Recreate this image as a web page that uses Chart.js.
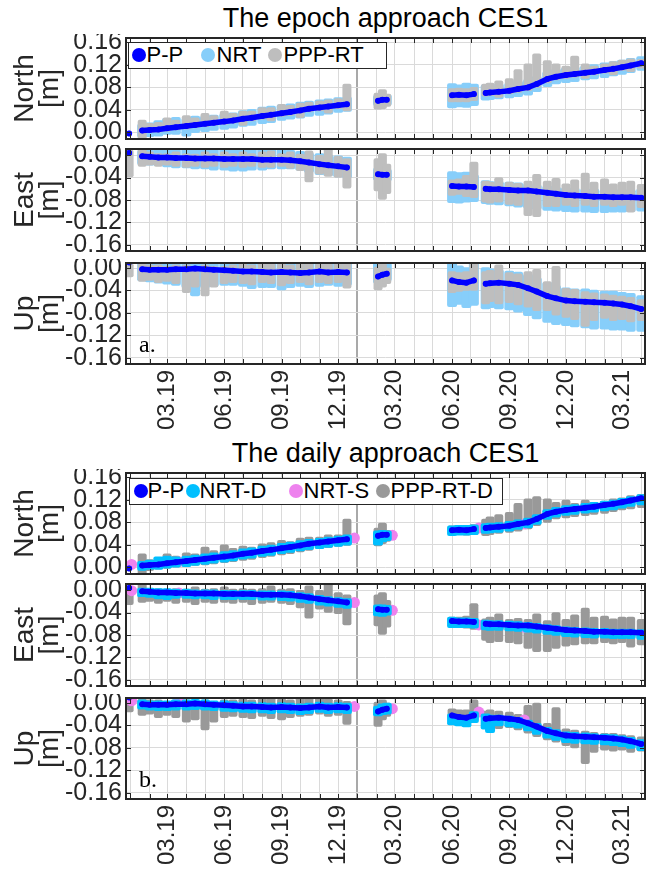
<!DOCTYPE html>
<html><head><meta charset="utf-8">
<script src="https://cdn.jsdelivr.net/npm/chart.js@4.4.0/dist/chart.umd.min.js"></script>
<style>
html,body{margin:0;padding:0;background:#fff;}
#wrap{position:relative;width:658px;height:869px;overflow:hidden;font-family:"Liberation Sans",Arial,sans-serif;}
.title{position:absolute;left:126px;width:519px;text-align:center;font-size:27px;line-height:27px;color:#000;z-index:3;white-space:nowrap;}
.legend{position:absolute;box-sizing:border-box;border:1.5px solid #262626;background:#fff;z-index:4;}
.legend .dot{position:absolute;width:14px;height:14px;border-radius:50%;}
.legend .txt{position:absolute;font-size:22px;line-height:22px;color:#000;white-space:nowrap;}
.tag{position:absolute;font-family:"Liberation Serif","Times New Roman",serif;font-size:24px;line-height:24px;color:#000;z-index:3;}
</style></head><body>
<div id="wrap"></div>
<script>
// ---------------- DATA ----------------
const dates = ['2018-12-30','2019-01-20','2019-02-01','2019-02-15','2019-03-01','2019-03-15','2019-04-01','2019-04-15','2019-05-01','2019-05-15','2019-06-01','2019-06-15','2019-07-01','2019-07-15','2019-08-01','2019-08-15','2019-09-01','2019-09-15','2019-10-01','2019-10-15','2019-11-01','2019-11-15','2019-12-01','2019-12-15','2020-02-03','2020-02-10','2020-02-17','2020-06-01','2020-06-12','2020-06-24','2020-07-06','2020-07-25','2020-08-01','2020-08-15','2020-09-01','2020-09-15','2020-10-01','2020-10-15','2020-11-01','2020-11-15','2020-12-01','2020-12-15','2021-01-01','2021-01-15','2021-02-01','2021-02-15','2021-03-01','2021-03-15','2021-04-01'];
const segment = [0,1,1,1,1,1,1,1,1,1,1,1,1,1,1,1,1,1,1,1,1,1,1,1,2,2,2,3,3,3,3,4,4,4,4,4,4,4,4,4,4,4,4,4,4,4,4,4,4];

// P-P (same reference solution in both approaches)
const ppNorth = [-0.002, 0.003,0.004,0.005,0.007,0.009,0.011,0.013,0.015,0.017,0.019,0.021,0.024,0.026,0.029,0.031,0.034,0.036,0.039,0.042,0.044,0.046,0.048,0.050, 0.056,0.058,0.058, 0.066,0.067,0.066,0.068, 0.070,0.071,0.072,0.074,0.077,0.080,0.086,0.095,0.099,0.102,0.104,0.106,0.108,0.111,0.113,0.116,0.119,0.123];
const ppEast = [0.004, -0.002,-0.003,-0.004,-0.004,-0.005,-0.005,-0.006,-0.006,-0.006,-0.007,-0.007,-0.007,-0.007,-0.008,-0.008,-0.008,-0.009,-0.011,-0.013,-0.016,-0.018,-0.020,-0.022, -0.034,-0.035,-0.035, -0.055,-0.056,-0.056,-0.057, -0.060,-0.061,-0.061,-0.062,-0.063,-0.063,-0.065,-0.067,-0.069,-0.071,-0.072,-0.073,-0.074,-0.074,-0.075,-0.075,-0.075,-0.076];
const ppUp = [0.010, -0.002,-0.003,-0.003,-0.003,-0.002,-0.002,-0.001,-0.002,-0.003,-0.004,-0.005,-0.006,-0.006,-0.007,-0.008,-0.007,-0.008,-0.009,-0.008,-0.006,-0.008,-0.007,-0.008, -0.015,-0.012,-0.010, -0.022,-0.025,-0.026,-0.022, -0.028,-0.027,-0.026,-0.028,-0.030,-0.036,-0.042,-0.050,-0.054,-0.058,-0.059,-0.060,-0.061,-0.062,-0.063,-0.065,-0.068,-0.073];

// epoch approach: [low, high] spread of the NRT and PPP-RT clouds
const nrtNorth = [null,
[-0.004,0.010],[-0.003,0.012],[-0.002,0.016],[0.000,0.020],[0.001,0.022],[-0.002,0.020],[0.004,0.024],[0.006,0.024],[0.008,0.026],[0.010,0.028],[0.012,0.030],[0.015,0.034],[0.017,0.036],[0.020,0.040],[0.022,0.042],[0.026,0.044],[0.028,0.046],[0.030,0.049],[0.033,0.051],[0.035,0.053],[0.037,0.055],[0.040,0.057],[0.042,0.058],
[0.052,0.061],[0.053,0.063],[0.053,0.062],
[0.048,0.082],[0.050,0.080],[0.049,0.083],[0.052,0.081],
[0.062,0.080],[0.063,0.080],[0.064,0.081],[0.066,0.083],[0.068,0.086],[0.071,0.089],[0.077,0.095],[0.086,0.103],[0.091,0.108],[0.093,0.110],[0.095,0.112],[0.098,0.114],[0.100,0.116],[0.102,0.119],[0.105,0.121],[0.108,0.124],[0.111,0.127],[0.115,0.130]];
const pppNorth = [null,
[-0.010,0.018],[0.003,0.012],[0.004,0.014],[0.006,0.022],[0.008,0.018],[0.010,0.026],[0.012,0.022],[0.014,0.030],[0.016,0.026],[0.018,0.034],[0.020,0.030],[0.016,0.034],[0.024,0.034],[0.027,0.040],[0.024,0.040],[0.032,0.046],[0.034,0.044],[0.030,0.048],[0.040,0.050],[0.042,0.052],[0.038,0.054],[0.046,0.056],[0.042,0.082],
[0.045,0.066],[0.046,0.072],[0.050,0.064],
[0.058,0.074],[0.058,0.075],[0.058,0.074],[0.060,0.076],
[0.068,0.082],[0.069,0.084],[0.066,0.088],[0.072,0.092],[0.075,0.108],[0.078,0.118],[0.084,0.136],[0.092,0.124],[0.097,0.118],[0.100,0.114],[0.102,0.132],[0.100,0.118],[0.106,0.114],[0.109,0.118],[0.106,0.122],[0.114,0.125],[0.112,0.127],[0.118,0.126]];
const nrtEast = [null,
[-0.012,0.004],[-0.013,0.004],[-0.014,0.005],[-0.016,0.006],[-0.018,0.006],[-0.018,0.008],[-0.020,0.008],[-0.020,0.008],[-0.022,0.009],[-0.022,0.009],[-0.024,0.010],[-0.024,0.010],[-0.022,0.010],[-0.022,0.008],[-0.020,0.008],[-0.020,0.006],[-0.020,0.004],[-0.022,0.002],[-0.026,0.000],[-0.030,-0.002],[-0.032,-0.004],[-0.034,-0.006],[-0.036,-0.008],
[-0.040,-0.028],[-0.040,-0.029],[-0.041,-0.030],
[-0.080,-0.034],[-0.081,-0.036],[-0.079,-0.035],[-0.078,-0.040],
[-0.082,-0.050],[-0.083,-0.052],[-0.084,-0.052],[-0.086,-0.053],[-0.088,-0.054],[-0.090,-0.056],[-0.092,-0.058],[-0.094,-0.060],[-0.095,-0.062],[-0.096,-0.063],[-0.097,-0.064],[-0.097,-0.065],[-0.098,-0.065],[-0.098,-0.066],[-0.097,-0.066],[-0.097,-0.066],[-0.096,-0.066],[-0.095,-0.065]];
const pppEast = [[-0.035,0.005],
[-0.016,0.010],[-0.014,0.002],[-0.016,0.000],[-0.014,0.000],[-0.016,0.002],[-0.018,0.000],[-0.016,-0.002],[-0.018,0.002],[-0.016,0.000],[-0.018,0.002],[-0.016,0.000],[-0.018,0.002],[-0.016,0.000],[-0.018,0.002],[-0.018,0.004],[-0.016,0.000],[-0.020,0.002],[-0.024,-0.002],[-0.044,0.004],[-0.030,-0.004],[-0.034,0.008],[-0.036,-0.006],[-0.055,-0.010],
[-0.060,-0.010],[-0.075,0.000],[-0.065,-0.020],
[-0.068,-0.048],[-0.066,-0.046],[-0.070,-0.040],[-0.072,-0.016],
[-0.080,-0.050],[-0.082,-0.052],[-0.080,-0.044],[-0.084,-0.052],[-0.086,-0.054],[-0.104,-0.050],[-0.106,-0.038],[-0.088,-0.050],[-0.088,-0.045],[-0.086,-0.055],[-0.088,-0.048],[-0.086,-0.036],[-0.088,-0.052],[-0.086,-0.046],[-0.088,-0.055],[-0.086,-0.052],[-0.098,-0.050],[-0.090,-0.056]];
const nrtUp = [null,
[-0.018,0.006],[-0.020,0.008],[-0.022,0.008],[-0.024,0.009],[-0.026,0.008],[-0.030,0.009],[-0.045,0.009],[-0.030,0.008],[-0.028,0.008],[-0.026,0.007],[-0.026,0.006],[-0.028,0.006],[-0.032,0.005],[-0.030,0.005],[-0.030,0.005],[-0.034,0.004],[-0.030,0.005],[-0.028,0.006],[-0.030,0.007],[-0.028,0.006],[-0.026,0.007],[-0.028,0.008],[-0.026,0.008],
[-0.022,0.005],[-0.020,0.008],[-0.018,0.004],
[-0.064,0.008],[-0.060,0.000],[-0.066,-0.004],[-0.062,0.008],
[-0.068,-0.004],[-0.066,-0.006],[-0.068,-0.008],[-0.070,-0.010],[-0.074,-0.012],[-0.080,-0.016],[-0.086,-0.022],[-0.092,-0.030],[-0.096,-0.036],[-0.098,-0.040],[-0.100,-0.042],[-0.102,-0.042],[-0.104,-0.044],[-0.104,-0.046],[-0.106,-0.046],[-0.106,-0.048],[-0.108,-0.050],[-0.108,-0.054]];
const pppUp = [[-0.012,0.004],
[-0.020,0.004],[-0.018,0.002],[-0.022,0.002],[-0.020,0.000],[-0.024,0.002],[-0.040,0.002],[-0.030,0.000],[-0.046,0.002],[-0.030,0.000],[-0.024,0.000],[-0.022,0.002],[-0.024,0.004],[-0.026,0.002],[-0.022,0.006],[-0.024,0.004],[-0.028,0.004],[-0.024,0.002],[-0.022,0.004],[-0.026,0.006],[-0.022,0.004],[-0.024,0.004],[-0.022,0.006],[-0.032,0.006],
[-0.035,-0.002],[-0.030,0.004],[-0.024,-0.004],
[-0.040,-0.010],[-0.038,-0.012],[-0.036,-0.010],[-0.036,0.008],
[-0.060,-0.010],[-0.056,-0.008],[-0.060,0.002],[-0.058,-0.012],[-0.062,-0.014],[-0.066,-0.010],[-0.072,-0.006],[-0.072,-0.028],[-0.080,0.000],[-0.084,-0.040],[-0.088,-0.042],[-0.100,-0.046],[-0.090,-0.048],[-0.086,-0.050],[-0.090,-0.052],[-0.088,-0.054],[-0.092,-0.056],[-0.090,-0.060]];

// daily approach: [low, high] spread of NRT-D and PPP-RT-D
const nrtdNorth = [null,
[-0.001,0.006],[0.000,0.008],[0.001,0.014],[0.003,0.015],[0.005,0.014],[0.006,0.015],[0.008,0.017],[0.010,0.019],[0.012,0.021],[0.014,0.023],[0.016,0.025],[0.019,0.028],[0.021,0.030],[0.024,0.033],[0.026,0.035],[0.029,0.038],[0.031,0.040],[0.034,0.043],[0.036,0.045],[0.038,0.047],[0.040,0.049],[0.042,0.051],[0.044,0.053],
[0.044,0.060],[0.050,0.061],[0.052,0.060],
[0.061,0.069],[0.062,0.070],[0.062,0.070],[0.063,0.071],
[0.065,0.073],[0.066,0.074],[0.067,0.075],[0.069,0.077],[0.072,0.080],[0.075,0.083],[0.081,0.089],[0.090,0.098],[0.094,0.102],[0.097,0.105],[0.099,0.107],[0.101,0.109],[0.103,0.111],[0.105,0.113],[0.107,0.115],[0.110,0.118],[0.113,0.121],[0.116,0.125]];
const ppdNorth = [null,
[-0.008,0.020],[-0.002,0.010],[0.000,0.012],[0.002,0.020],[0.004,0.016],[0.005,0.022],[0.007,0.020],[0.008,0.032],[0.010,0.026],[0.012,0.036],[0.014,0.030],[0.016,0.034],[0.018,0.032],[0.021,0.038],[0.023,0.040],[0.026,0.044],[0.028,0.042],[0.031,0.048],[0.034,0.050],[0.037,0.050],[0.039,0.054],[0.041,0.054],[0.043,0.082],
[0.042,0.066],[0.046,0.075],[0.050,0.062],
[0.062,0.070],[0.062,0.071],[0.061,0.071],[0.062,0.072],
[0.060,0.082],[0.062,0.086],[0.064,0.090],[0.066,0.094],[0.068,0.110],[0.072,0.118],[0.078,0.122],[0.084,0.118],[0.090,0.112],[0.092,0.116],[0.094,0.110],[0.096,0.116],[0.098,0.112],[0.100,0.114],[0.103,0.118],[0.106,0.120],[0.108,0.124],[0.110,0.126]];
const nrtdEast = [null,
[-0.007,0.000],[-0.008,-0.001],[-0.011,-0.002],[-0.012,-0.002],[-0.010,-0.003],[-0.010,-0.003],[-0.011,-0.004],[-0.011,-0.004],[-0.012,-0.004],[-0.012,-0.005],[-0.012,-0.005],[-0.012,-0.005],[-0.012,-0.005],[-0.013,-0.006],[-0.013,-0.006],[-0.014,-0.006],[-0.015,-0.007],[-0.017,-0.009],[-0.019,-0.011],[-0.022,-0.014],[-0.024,-0.016],[-0.026,-0.018],[-0.028,-0.020],
[-0.041,-0.031],[-0.042,-0.031],[-0.040,-0.032],
[-0.062,-0.053],[-0.062,-0.054],[-0.062,-0.054],[-0.063,-0.055],
[-0.066,-0.058],[-0.067,-0.059],[-0.067,-0.059],[-0.068,-0.060],[-0.069,-0.061],[-0.070,-0.062],[-0.072,-0.064],[-0.074,-0.066],[-0.076,-0.068],[-0.078,-0.070],[-0.079,-0.071],[-0.080,-0.072],[-0.081,-0.073],[-0.081,-0.073],[-0.082,-0.074],[-0.082,-0.074],[-0.082,-0.074],[-0.083,-0.075]];
const ppdEast = [[-0.022,0.002],
[-0.018,0.010],[-0.016,0.000],[-0.020,0.000],[-0.016,-0.002],[-0.020,0.000],[-0.018,-0.002],[-0.022,0.002],[-0.018,-0.002],[-0.020,0.000],[-0.018,0.002],[-0.020,-0.002],[-0.018,0.000],[-0.022,-0.002],[-0.020,0.000],[-0.018,0.004],[-0.020,-0.002],[-0.022,0.000],[-0.028,-0.004],[-0.046,0.004],[-0.030,-0.004],[-0.036,0.008],[-0.038,-0.008],[-0.058,-0.012],
[-0.060,-0.012],[-0.075,-0.008],[-0.062,-0.022],
[-0.062,-0.052],[-0.062,-0.052],[-0.064,-0.050],[-0.066,-0.028],
[-0.086,-0.055],[-0.090,-0.052],[-0.088,-0.046],[-0.090,-0.056],[-0.092,-0.054],[-0.100,-0.056],[-0.106,-0.046],[-0.106,-0.058],[-0.100,-0.044],[-0.096,-0.056],[-0.094,-0.048],[-0.092,-0.036],[-0.092,-0.052],[-0.090,-0.050],[-0.092,-0.055],[-0.090,-0.052],[-0.098,-0.052],[-0.094,-0.056]];
const nrtdUp = [null,
[-0.006,0.001],[-0.008,0.000],[-0.009,0.000],[-0.009,0.000],[-0.008,0.001],[-0.008,0.001],[-0.007,0.002],[-0.008,0.001],[-0.009,0.000],[-0.010,-0.001],[-0.011,-0.002],[-0.012,-0.003],[-0.013,-0.003],[-0.013,-0.004],[-0.014,-0.005],[-0.013,-0.004],[-0.014,-0.005],[-0.016,-0.006],[-0.014,-0.005],[-0.012,-0.003],[-0.014,-0.005],[-0.013,-0.004],[-0.014,-0.005],
[-0.018,-0.010],[-0.016,-0.006],[-0.015,-0.005],
[-0.034,-0.024],[-0.036,-0.026],[-0.038,-0.028],[-0.030,-0.020],
[-0.042,-0.024],[-0.048,-0.026],[-0.036,-0.026],[-0.038,-0.028],[-0.040,-0.030],[-0.045,-0.035],[-0.051,-0.041],[-0.058,-0.048],[-0.062,-0.052],[-0.066,-0.056],[-0.067,-0.057],[-0.068,-0.058],[-0.069,-0.059],[-0.070,-0.060],[-0.071,-0.061],[-0.073,-0.063],[-0.076,-0.066],[-0.080,-0.070]];
const ppdUp = [[-0.012,0.004],
[-0.018,0.004],[-0.016,0.002],[-0.022,0.002],[-0.018,0.000],[-0.022,0.002],[-0.030,0.002],[-0.026,0.000],[-0.044,0.002],[-0.030,0.000],[-0.022,0.002],[-0.020,0.002],[-0.022,0.004],[-0.024,0.002],[-0.020,0.004],[-0.024,0.006],[-0.026,0.004],[-0.022,0.002],[-0.020,0.006],[-0.018,0.016],[-0.016,0.014],[-0.020,0.004],[-0.018,0.002],[-0.034,0.000],
[-0.038,-0.002],[-0.026,0.002],[-0.020,-0.004],
[-0.026,-0.014],[-0.028,-0.016],[-0.030,-0.016],[-0.028,0.002],
[-0.040,-0.018],[-0.044,-0.016],[-0.042,-0.018],[-0.040,-0.020],[-0.044,-0.024],[-0.050,-0.008],[-0.056,-0.004],[-0.062,-0.040],[-0.066,-0.012],[-0.072,-0.050],[-0.076,-0.052],[-0.104,-0.054],[-0.084,-0.056],[-0.080,-0.058],[-0.082,-0.058],[-0.080,-0.060],[-0.084,-0.062],[-0.082,-0.064]];

// NRT-S (daily, visible where the other solutions are missing)
const nrtsDates = ['2019-01-03','2019-03-20','2019-12-27','2020-02-26','2020-07-14','2020-09-25'];
const nrtsNorth = [0.005, 0.010, 0.052, 0.057, 0.070, 0.077];
const nrtsEast = [-0.001, -0.005, -0.022, -0.036, -0.062, -0.066];
const nrtsUp = [0.004, 0.008, -0.006, -0.010, -0.016, -0.030];

// axes
const xTickDates = ['2019-03-01','2019-06-01','2019-09-01','2019-12-01','2020-03-01','2020-06-01','2020-09-01','2020-12-01','2021-03-01'];
const xTickLabels = ['03.19','06.19','09.19','12.19','03.20','06.20','09.20','12.20','03.21'];
const xRange = ['2018-12-25','2021-04-07'];
const darkGridDates = ['2020-01-01'];
const yTicksNorth = [0, 0.04, 0.08, 0.12, 0.16];
const yTicksNeg = [-0.16, -0.12, -0.08, -0.04, 0];
const components = ['North','East','Up'];
const seriesEpoch = ['P-P','NRT','PPP-RT'];
const seriesDaily = ['P-P','NRT-D','NRT-S','PPP-RT-D'];
const titles = ['The epoch approach CES1','The daily approach CES1'];

// ---------------- rendering ----------------
const FONT = '"Liberation Sans", Arial, sans-serif';
const COL = {pp:'#0000ff', nrt:'#87cefa', ppp:'#bebebe', nrtd:'#00bfff', nrts:'#ee82ee', ppd:'#999999'};
const dayOf = s => Date.UTC(+s.slice(0,4), +s.slice(5,7)-1, +s.slice(8,10)) / 864e5;
const xs = dates.map(dayOf);
const xMin = dayOf(xRange[0]), xMax = dayOf(xRange[1]);
const monthVals = [];
for (let y = 2019; y <= 2021; y++) for (let m = 1; m <= 12; m++) {
  const v = Date.UTC(y, m-1, 1)/864e5; if (v > xMin && v < xMax) monthVals.push(v);
}
const labelMap = {}; xTickDates.forEach((d,i) => labelMap[dayOf(d)] = xTickLabels[i]);
const darkVals = new Set(darkGridDates.map(dayOf));

function lineSeries(vals){
  const out = [];
  vals.forEach((v,i) => {
    if (i > 0 && segment[i] !== segment[i-1]) out.push({x:(xs[i]+xs[i-1])/2, y:null});
    out.push({x:xs[i], y:v});
  });
  return out;
}
function barSeries(pairs){ return pairs.map((p,i) => p ? {x:xs[i], y:p} : null).filter(Boolean); }
function pointSeries(ds, vals){ return ds.map((d,i) => ({x:dayOf(d), y:vals[i]})); }

const framePlugin = {
  id:'frame',
  afterDatasetsDraw(chart){
    const {ctx, chartArea:a, scales:{x, y}} = chart;
    ctx.save();
    ctx.strokeStyle = '#262626'; ctx.lineWidth = 1;
    ctx.beginPath();
    x.ticks.forEach(t => { const p = Math.round(x.getPixelForValue(t.value))+0.5;
      ctx.moveTo(p, a.top); ctx.lineTo(p, a.top+5); ctx.moveTo(p, a.bottom); ctx.lineTo(p, a.bottom-5); });
    y.ticks.forEach(t => { const p = Math.round(y.getPixelForValue(t.value))+0.5;
      ctx.moveTo(a.left, p); ctx.lineTo(a.left+5, p); ctx.moveTo(a.right, p); ctx.lineTo(a.right-5, p); });
    ctx.stroke();
    ctx.lineWidth = 2;
    ctx.strokeRect(a.left, a.top, a.right-a.left, a.bottom-a.top);
    ctx.restore();
  }
};

const wrap = document.getElementById('wrap');
function bar(data, color, order, inflate){
  return {type:'bar', data, backgroundColor:color, grouped:false, barThickness:4, borderRadius:5,
          borderSkipped:false, borderWidth:0, inflateAmount:inflate, order};
}
function line(data, order){
  return {type:'line', data, borderColor:COL.pp, backgroundColor:COL.pp, borderWidth:5.5, pointRadius:3, pointBorderWidth:0,
          spanGaps:false, borderCapStyle:'round', borderJoinStyle:'round', order};
}
const noPad = s => { s.paddingTop = 0; s.paddingBottom = 0; s.paddingLeft = 0; s.paddingRight = 0; };

function makeSubplot(o){
  const padT = 4, padB = o.bottom ? 0 : 4, xH = o.bottom ? 74 : 0;
  const H = o.h + padT + padB + xH;
  const c = document.createElement('canvas');
  c.width = 658; c.height = H;
  c.style.cssText = `position:absolute;left:0;top:${o.top-padT}px;width:658px;height:${H}px;z-index:1;`;
  wrap.appendChild(c);
  return new Chart(c, {
    type:'bar',
    data:{datasets:o.datasets},
    options:{
      responsive:false, animation:false, events:[],
      layout:{autoPadding:false, padding:{top:padT, bottom:padB, left:0, right:13}},
      plugins:{legend:{display:false}, tooltip:{enabled:false}, title:{display:false}},
      scales:{
        x:{type:'linear', min:xMin, max:xMax, offset:false,
          afterBuildTicks:s => { s.ticks = monthVals.map(v => ({value:v})); },
          afterFit:s => { s.height = xH; noPad(s); },
          ticks:{display:o.bottom, autoSkip:false, maxRotation:90, minRotation:90, padding:6, color:'#262626',
                 font:{family:FONT, size:24}, callback:v => labelMap[v] || ''},
          grid:{offset:false, drawTicks:false,
                color:c => darkVals.has(c.tick && c.tick.value) ? '#a9a9a9' : '#dadada',
                lineWidth:c => darkVals.has(c.tick && c.tick.value) ? 2 : 1},
          border:{display:false}},
        y:{type:'linear', min:o.ymin, max:o.ymax,
          afterBuildTicks:s => { s.ticks = o.yticks.map(v => ({value:v})); },
          afterFit:s => { s.width = 126; noPad(s); },
          ticks:{autoSkip:false, padding:4, color:'#262626', font:{family:FONT, size:25, lineHeight:1}, callback:v => v.toFixed(2)},
          grid:{drawTicks:false, color:'#dadada'},
          border:{display:false},
          title:{display:true, text:[o.comp, '[m]'], color:'#262626',
                 font:{family:FONT, size:28, lineHeight:0.88}, padding:{top:13, bottom:0}}}
      }
    },
    plugins:[framePlugin]
  });
}

const geom = [
  {comp:'North', h:101, ymin:-0.012, ymax:0.168, yticks:yTicksNorth, top:38},
  {comp:'East',  h:102, ymin:-0.171, ymax:0.011, yticks:yTicksNeg, top:149},
  {comp:'Up',    h:101, ymin:-0.171, ymax:0.009, yticks:yTicksNeg, top:263}
];
const PANEL_SHIFT = 435;
const pp = {North:ppNorth, East:ppEast, Up:ppUp};
const nrt = {North:nrtNorth, East:nrtEast, Up:nrtUp};
const ppp = {North:pppNorth, East:pppEast, Up:pppUp};
const nrtd = {North:nrtdNorth, East:nrtdEast, Up:nrtdUp};
const ppd = {North:ppdNorth, East:ppdEast, Up:ppdUp};
const nrts = {North:nrtsNorth, East:nrtsEast, Up:nrtsUp};

geom.forEach((g, k) => {
  makeSubplot(Object.assign({}, g, {bottom:k===2, datasets:[
    line(lineSeries(pp[g.comp]), 0),
    bar(barSeries(ppp[g.comp]), COL.ppp, 1, 2.5),
    bar(barSeries(nrt[g.comp]), COL.nrt, 2, 3)
  ]}));
  makeSubplot(Object.assign({}, g, {top:g.top+PANEL_SHIFT, bottom:k===2, datasets:[
    line(lineSeries(pp[g.comp]), 0),
    bar(barSeries(nrtd[g.comp]), COL.nrtd, 1, 3),
    {type:'scatter', data:pointSeries(nrtsDates, nrts[g.comp]), backgroundColor:COL.nrts, pointRadius:5.5, pointBorderWidth:0, showLine:false, order:2},
    bar(barSeries(ppd[g.comp]), COL.ppd, 3, 2.5)
  ]}));
});

// titles, legends, panel tags
function addDiv(cls, css, text){ const d = document.createElement('div'); d.className = cls; d.style.cssText = css; if (text) d.textContent = text; wrap.appendChild(d); return d; }
addDiv('title', 'top:5px;', titles[0]);
addDiv('title', `top:${5+PANEL_SHIFT}px;`, titles[1]);
function legend(box, names, colors, dotX, txtX){
  const L = addDiv('legend', `left:${box[0]}px;top:${box[1]}px;width:${box[2]}px;height:${box[3]}px;`);
  names.forEach((n,i) => {
    const d = document.createElement('div'); d.className = 'dot';
    d.style.cssText = `left:${dotX[i]-box[0]-7-1.5}px;top:${box[3]/2-7-1.5}px;background:${colors[i]};`;
    L.appendChild(d);
    const t = document.createElement('div'); t.className = 'txt'; t.textContent = n;
    t.style.cssText = `left:${txtX[i]-box[0]-1.5}px;top:${box[3]/2-11-1.5}px;`;
    L.appendChild(t);
  });
}
legend([128,42,259,27], seriesEpoch, [COL.pp, COL.nrt, COL.ppp], [139,208,275], [147,217,284]);
legend([129,478,374,27], seriesDaily, [COL.pp, COL.nrtd, COL.nrts, COL.ppd], [141,193,296,383], [148,200,304,391]);
addDiv('tag', 'left:139px;top:332px;', 'a.');
addDiv('tag', `left:139px;top:${332+PANEL_SHIFT}px;`, 'b.');
</script>
</body></html>
